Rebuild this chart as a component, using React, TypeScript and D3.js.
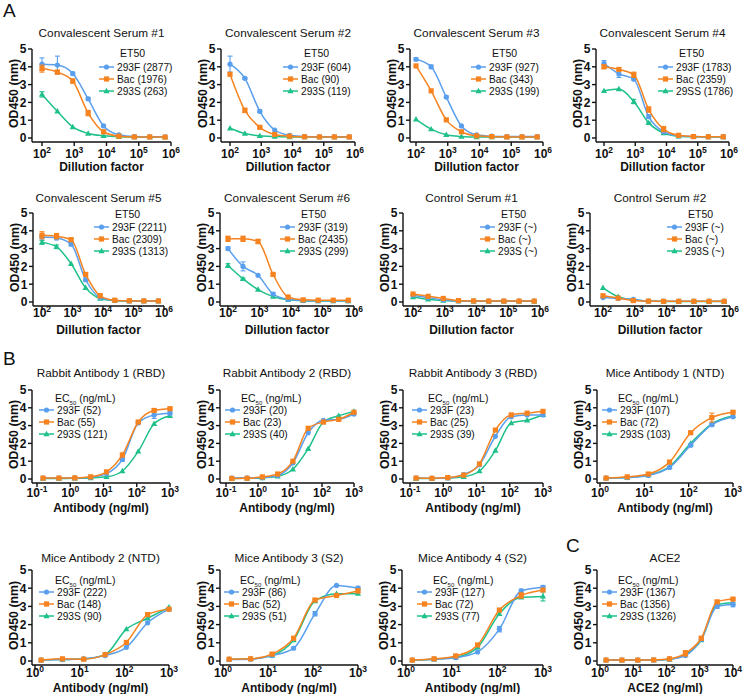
import React from "react";
import * as d3 from "d3";

const FONT = "Arial, 'Liberation Sans', Helvetica, sans-serif";
const COLORS = ["#5A9FEE", "#F6831F", "#1EC08C"]; // 293F, Bac, 293S

// ---------- x values ----------
const serumDilutions = [100, 300, 900, 2700, 8100, 24300, 72900, 218700, 656100];
const antibodyConc9 = [0.152, 0.457, 1.37, 4.12, 12.3, 37.0, 111, 333, 1000];
const antibodyConc7 = [1.37, 4.12, 12.3, 37.0, 111, 333, 1000];
const ace2Conc = [1.52, 4.57, 13.7, 41.2, 123, 370, 1111, 3333, 10000];

// ---------- Panel A: convalescent / control sera (293F, Bac, 293S) ----------
const serum1Values = [
  [4.15, 4.1, 3.62, 2.2, 0.68, 0.18, 0.08, 0.07, 0.07],
  [3.9, 3.7, 3.2, 1.4, 0.35, 0.1, 0.06, 0.06, 0.05],
  [2.45, 1.5, 0.62, 0.25, 0.12, 0.07, 0.06, 0.06, 0.05],
];
const serum1Err = [
  [0.35, 0.5, 0.08, 0.08, 0.05, 0, 0, 0, 0],
  [0.2, 0.1, 0.12, 0.15, 0.05, 0, 0, 0, 0],
  [0.15, 0, 0, 0, 0, 0, 0, 0, 0],
];
const serum1Legend = ["293F (2877)", "Bac (1976)", "293S (263)"];

const serum2Values = [
  [4.15, 3.35, 1.5, 0.45, 0.15, 0.08, 0.07, 0.07, 0.07],
  [3.58, 1.55, 0.6, 0.2, 0.1, 0.07, 0.06, 0.06, 0.06],
  [0.55, 0.25, 0.12, 0.08, 0.06, 0.05, 0.05, 0.05, 0.05],
];
const serum2Err = [
  [0.45, 0.05, 0.08, 0, 0, 0, 0, 0, 0],
  [0, 0.12, 0.05, 0, 0, 0, 0, 0, 0],
  [0, 0, 0, 0, 0, 0, 0, 0, 0],
];
const serum2Legend = ["293F (604)", "Bac (90)", "293S (119)"];

const serum3Values = [
  [4.42, 4.0, 2.3, 0.68, 0.18, 0.1, 0.08, 0.08, 0.08],
  [4.05, 2.65, 1.02, 0.35, 0.12, 0.08, 0.06, 0.06, 0.06],
  [1.05, 0.5, 0.18, 0.08, 0.05, 0.05, 0.05, 0.05, 0.05],
];
const serum3Err = [
  [0.08, 0.1, 0.06, 0, 0, 0, 0, 0, 0],
  [0, 0, 0, 0, 0, 0, 0, 0, 0],
  [0, 0, 0, 0, 0, 0, 0, 0, 0],
];
const serum3Legend = ["293F (927)", "Bac (343)", "293S (199)"];

const serum4Values = [
  [4.2, 3.6, 3.3, 1.2, 0.35, 0.12, 0.08, 0.07, 0.07],
  [4.0, 3.85, 3.55, 1.6, 0.5, 0.15, 0.08, 0.07, 0.07],
  [2.65, 2.75, 2.05, 0.85, 0.28, 0.1, 0.07, 0.06, 0.06],
];
const serum4Err = [
  [0.15, 0.2, 0.05, 0.1, 0.05, 0, 0, 0, 0],
  [0.1, 0, 0.15, 0.15, 0.15, 0.05, 0, 0, 0],
  [0, 0, 0.12, 0.05, 0, 0, 0, 0, 0],
];
const serum4Legend = ["293F (1783)", "Bac (2359)", "29SS (1786)"];

const serum5Values = [
  [3.65, 3.6, 3.25, 1.25, 0.25, 0.08, 0.06, 0.06, 0.06],
  [3.75, 3.7, 3.5, 1.55, 0.35, 0.1, 0.07, 0.06, 0.06],
  [3.35, 3.1, 2.15, 0.8, 0.2, 0.08, 0.05, 0.05, 0.05],
];
const serum5Err = [
  [0.1, 0.1, 0.1, 0.08, 0, 0, 0, 0, 0],
  [0.2, 0.15, 0.1, 0.1, 0.1, 0.05, 0, 0, 0],
  [0.1, 0.1, 0, 0, 0, 0, 0, 0, 0],
];
const serum5Legend = ["293F (2211)", "Bac (2309)", "293S (1313)"];

const serum6Values = [
  [3.0, 2.0, 1.5, 0.45, 0.15, 0.08, 0.07, 0.07, 0.07],
  [3.55, 3.55, 3.4, 1.55, 0.28, 0.12, 0.1, 0.1, 0.1],
  [2.05, 1.3, 0.7, 0.3, 0.12, 0.07, 0.06, 0.06, 0.06],
];
const serum6Err = [
  [0.1, 0.25, 0, 0.08, 0, 0, 0, 0, 0],
  [0.15, 0.15, 0.12, 0.05, 0.05, 0, 0, 0, 0],
  [0.1, 0.05, 0, 0, 0, 0, 0, 0, 0],
];
const serum6Legend = ["293F (319)", "Bac (2435)", "293S (299)"];

const control1Values = [
  [0.38, 0.25, 0.12, 0.06, 0.05, 0.05, 0.05, 0.05, 0.05],
  [0.45, 0.32, 0.2, 0.08, 0.06, 0.05, 0.05, 0.05, 0.05],
  [0.28, 0.15, 0.08, 0.05, 0.04, 0.04, 0.04, 0.04, 0.04],
];
const control2Values = [
  [0.25, 0.2, 0.15, 0.05, 0.04, 0.04, 0.04, 0.04, 0.04],
  [0.35, 0.22, 0.08, 0.05, 0.04, 0.04, 0.04, 0.04, 0.04],
  [0.8, 0.3, 0.12, 0.05, 0.03, 0.03, 0.03, 0.03, 0.03],
];
const controlLegend = ["293F (~)", "Bac (~)", "293S (~)"];

// ---------- Panel B: antibodies ----------
const rabbit1Values = [
  [0.05, 0.05, 0.06, 0.1, 0.3, 1.1, 3.15, 3.6, 3.7],
  [0.05, 0.05, 0.06, 0.12, 0.4, 1.35, 3.2, 3.85, 3.95],
  [0.03, 0.03, 0.04, 0.06, 0.12, 0.45, 1.55, 3.1, 3.55],
];
const rabbit1Err = [
  [0, 0, 0, 0, 0, 0.1, 0, 0.2, 0.08],
  [0, 0, 0, 0, 0.06, 0.1, 0.05, 0.1, 0.05],
  [0, 0, 0, 0, 0, 0, 0, 0, 0],
];
const rabbit1Legend = ["293F (52)", "Bac (55)", "293S (121)"];

const rabbit2Values = [
  [0.05, 0.05, 0.08, 0.2, 0.9, 2.6, 3.3, 3.35, 3.65],
  [0.03, 0.04, 0.12, 0.28, 1.0, 2.85, 3.2, 3.35, 3.75],
  [0.03, 0.04, 0.06, 0.15, 0.55, 1.7, 3.2, 3.55, 3.8],
];
const rabbit2Legend = ["293F (20)", "Bac (23)", "293S (40)"];

const rabbit3Values = [
  [0.05, 0.04, 0.06, 0.25, 0.8, 2.4, 3.5, 3.6, 3.6],
  [0.05, 0.04, 0.08, 0.22, 0.85, 2.75, 3.6, 3.7, 3.8],
  [0.03, 0.03, 0.05, 0.12, 0.45, 1.6, 3.15, 3.3, 3.6],
];
const rabbit3Legend = ["293F (23)", "Bac (25)", "293S (39)"];

const mice1Values = [
  [0.05, 0.08, 0.2, 0.65, 1.9, 3.05, 3.5],
  [0.05, 0.12, 0.28, 0.95, 2.6, 3.45, 3.75],
  [0.05, 0.08, 0.22, 0.7, 2.0, 3.1, 3.55],
];
const mice1Err = [
  [0, 0, 0, 0.06, 0.08, 0.08, 0],
  [0, 0, 0.06, 0.05, 0.05, 0.25, 0.05],
  [0, 0, 0, 0, 0, 0, 0],
];
const mice1Legend = ["293F (107)", "Bac (72)", "293S (103)"];

const mice2Values = [
  [0.05, 0.08, 0.12, 0.3, 0.75, 2.1, 2.85],
  [0.05, 0.12, 0.1, 0.35, 1.02, 2.55, 2.85],
  [0.05, 0.08, 0.12, 0.35, 1.75, 2.35, 2.95],
];
const mice2Legend = ["293F (222)", "Bac (148)", "293S (90)"];

const mice3Values = [
  [0.08, 0.1, 0.3, 0.7, 2.6, 4.15, 4.0],
  [0.1, 0.12, 0.38, 1.25, 3.35, 3.6, 3.85],
  [0.1, 0.12, 0.3, 1.15, 3.3, 3.7, 3.7],
];
const mice3Err = [
  [0, 0, 0, 0.05, 0.12, 0, 0.1],
  [0, 0, 0.05, 0.08, 0.05, 0.05, 0.1],
  [0, 0, 0, 0, 0, 0, 0],
];
const mice3Legend = ["293F (86)", "Bac (52)", "293S (51)"];

const mice4Values = [
  [0.05, 0.1, 0.18, 0.5, 1.75, 3.85, 4.05],
  [0.05, 0.12, 0.28, 0.88, 2.8, 3.6, 3.9],
  [0.05, 0.1, 0.2, 0.75, 2.6, 3.5, 3.55],
];
const mice4Err = [
  [0, 0, 0, 0, 0.15, 0.1, 0.1],
  [0, 0, 0.05, 0.05, 0.08, 0.15, 0],
  [0, 0, 0, 0, 0, 0, 0.25],
];
const mice4Legend = ["293F (127)", "Bac (72)", "293S (77)"];

const ace2Values = [
  [0.05, 0.05, 0.05, 0.05, 0.1, 0.3, 1.2, 3.0, 3.1],
  [0.05, 0.05, 0.05, 0.06, 0.12, 0.42, 1.25, 3.25, 3.4],
  [0.05, 0.05, 0.05, 0.05, 0.1, 0.35, 1.15, 3.1, 3.2],
];
const ace2Err = [
  [0, 0, 0, 0, 0, 0, 0.1, 0.1, 0.12],
  [0, 0, 0, 0, 0.05, 0.15, 0.1, 0.05, 0.05],
  [0, 0, 0, 0, 0, 0, 0, 0, 0],
];
const ace2Legend = ["293F (1367)", "Bac (1356)", "293S (1326)"];

const yTicks = [0, 1, 2, 3, 4, 5];

// ---------- layout ----------
type Row = { top: number; zero: number; titleY: number; tickY: number; xLabelY: number; legY: number[] };
const rowA1: Row = { top: 49, zero: 138, titleY: 37, tickY: 158, xLabelY: 171, legY: [4, 18, 30, 42] };
const rowA2: Row = { top: 213, zero: 302, titleY: 202, tickY: 317, xLabelY: 334, legY: [1, 14, 26, 38] };
const rowB1: Row = { top: 390, zero: 479, titleY: 377, tickY: 497, xLabelY: 512, legY: [8, 20, 32, 44] };
const rowB2: Row = { top: 570, zero: 661, titleY: 562, tickY: 677, xLabelY: 692, legY: [10, 22, 34, 46] };

type PanelSpec = {
  title: string;
  row: Row;
  axisX: number;
  x0: number;
  x1: number;
  dMin: number;
  dMax: number;
  xs: number[];
  values: number[][];
  errs?: number[][];
  header: "ET50" | "EC50";
  legend: string[];
  legX: number;
  xLabel: string;
};

const panels: PanelSpec[] = [
  { title: "Convalescent Serum #1", row: rowA1, axisX: 32, x0: 42, x1: 171, dMin: 2, dMax: 6, xs: serumDilutions, values: serum1Values, errs: serum1Err, header: "ET50", legend: serum1Legend, legX: 117, xLabel: "Dillution factor" },
  { title: "Convalescent Serum #2", row: rowA1, axisX: 221, x0: 230, x1: 355, dMin: 2, dMax: 6, xs: serumDilutions, values: serum2Values, errs: serum2Err, header: "ET50", legend: serum2Legend, legX: 301, xLabel: "Dillution factor" },
  { title: "Convalescent Serum #3", row: rowA1, axisX: 410, x0: 416, x1: 543, dMin: 2, dMax: 6, xs: serumDilutions, values: serum3Values, errs: serum3Err, header: "ET50", legend: serum3Legend, legX: 489, xLabel: "Dillution factor" },
  { title: "Convalescent Serum #4", row: rowA1, axisX: 596, x0: 604, x1: 729, dMin: 2, dMax: 6, xs: serumDilutions, values: serum4Values, errs: serum4Err, header: "ET50", legend: serum4Legend, legX: 676, xLabel: "Dillution factor" },
  { title: "Convalescent Serum #5", row: rowA2, axisX: 33, x0: 42, x1: 164, dMin: 2, dMax: 6, xs: serumDilutions, values: serum5Values, errs: serum5Err, header: "ET50", legend: serum5Legend, legX: 112, xLabel: "Dillution factor" },
  { title: "Convalescent Serum #6", row: rowA2, axisX: 220, x0: 228, x1: 354, dMin: 2, dMax: 6, xs: serumDilutions, values: serum6Values, errs: serum6Err, header: "ET50", legend: serum6Legend, legX: 298, xLabel: "Dillution factor" },
  { title: "Control Serum #1", row: rowA2, axisX: 403, x0: 413, x1: 540, dMin: 2, dMax: 6, xs: serumDilutions, values: control1Values, header: "ET50", legend: controlLegend, legX: 498, xLabel: "Dillution factor" },
  { title: "Control Serum #2", row: rowA2, axisX: 590, x0: 603, x1: 730, dMin: 2, dMax: 6, xs: serumDilutions, values: control2Values, header: "ET50", legend: controlLegend, legX: 685, xLabel: "Dillution factor" },
  { title: "Rabbit Antibody 1 (RBD)", row: rowB1, axisX: 32, x0: 37, x1: 170, dMin: -1, dMax: 3, xs: antibodyConc9, values: rabbit1Values, errs: rabbit1Err, header: "EC50", legend: rabbit1Legend, legX: 57, xLabel: "Antibody (ng/ml)" },
  { title: "Rabbit Antibody 2 (RBD)", row: rowB1, axisX: 220, x0: 226, x1: 354, dMin: -1, dMax: 3, xs: antibodyConc9, values: rabbit2Values, header: "EC50", legend: rabbit2Legend, legX: 243, xLabel: "Antibody (ng/ml)" },
  { title: "Rabbit Antibody 3 (RBD)", row: rowB1, axisX: 403, x0: 410, x1: 543, dMin: -1, dMax: 3, xs: antibodyConc9, values: rabbit3Values, header: "EC50", legend: rabbit3Legend, legX: 430, xLabel: "Antibody (ng/ml)" },
  { title: "Mice Antibody 1 (NTD)", row: rowB1, axisX: 597, x0: 600, x1: 733, dMin: 0, dMax: 3, xs: antibodyConc7, values: mice1Values, errs: mice1Err, header: "EC50", legend: mice1Legend, legX: 620, xLabel: "Antibody (ng/ml)" },
  { title: "Mice Antibody 2 (NTD)", row: rowB2, axisX: 32, x0: 35, x1: 169, dMin: 0, dMax: 3, xs: antibodyConc7, values: mice2Values, header: "EC50", legend: mice2Legend, legX: 57, xLabel: "Antibody (ng/ml)" },
  { title: "Mice Antibody 3 (S2)", row: rowB2, axisX: 220, x0: 223, x1: 358, dMin: 0, dMax: 3, xs: antibodyConc7, values: mice3Values, errs: mice3Err, header: "EC50", legend: mice3Legend, legX: 242, xLabel: "Antibody (ng/ml)" },
  { title: "Mice Antibody 4 (S2)", row: rowB2, axisX: 402, x0: 406, x1: 543, dMin: 0, dMax: 3, xs: antibodyConc7, values: mice4Values, errs: mice4Err, header: "EC50", legend: mice4Legend, legX: 435, xLabel: "Antibody (ng/ml)" },
  { title: "ACE2", row: rowB2, axisX: 597, x0: 600, x1: 733, dMin: 0, dMax: 4, xs: ace2Conc, values: ace2Values, errs: ace2Err, header: "EC50", legend: ace2Legend, legX: 620, xLabel: "ACE2 (ng/ml)" },
];

const drawOrder = [2, 0, 1];

function Marker({ type, x, y, color }: { type: number; x: number; y: number; color: string }) {
  if (type === 0) return <circle cx={x} cy={y} r={2.6} fill={color} />;
  if (type === 1) return <rect x={x - 2.6} y={y - 2.6} width={5.2} height={5.2} fill={color} />;
  return <path d={`M${x},${y - 3.2}L${x + 3.1},${y + 2.2}L${x - 3.1},${y + 2.2}Z`} fill={color} />;
}

function Panel({ p }: { p: PanelSpec }) {
  const r = p.row;
  const x = d3.scaleLog().domain([10 ** p.dMin, 10 ** p.dMax]).range([p.x0, p.x1]);
  const y = d3.scaleLinear().domain([0, 5]).range([r.zero, r.top]);
  const axisY = r.zero + 4;
  const line = d3
    .line<[number, number]>()
    .x((d) => x(d[0]))
    .y((d) => y(d[1]))
    .curve(d3.curveMonotoneX);
  const decades = d3.range(p.dMin, p.dMax + 1);
  const cx = (p.axisX + p.x1) / 2;
  const tickLen = 4;
  return (
    <g>
      <text x={cx} y={r.titleY} textAnchor="middle" fontSize={11.8} fill="#111">
        {p.title}
      </text>
      {/* y axis */}
      <line x1={p.axisX} x2={p.axisX} y1={r.top} y2={axisY} stroke="#111" strokeWidth={1.4} />
      {yTicks.map((t) => (
        <g key={t}>
          <line x1={p.axisX - tickLen} x2={p.axisX} y1={y(t)} y2={y(t)} stroke="#111" strokeWidth={1.4} />
          <text x={p.axisX - 5.5} y={y(t) + 4.3} textAnchor="end" fontSize={12} fontWeight="bold" fill="#111">
            {t}
          </text>
        </g>
      ))}
      <text
        transform={`translate(${p.axisX - 14},${(r.top + r.zero) / 2}) rotate(-90)`}
        textAnchor="middle"
        fontSize={12.3}
        fontWeight="bold"
        fill="#111"
      >
        OD450 (nm)
      </text>
      {/* x axis */}
      <line x1={p.axisX} x2={p.x1} y1={axisY} y2={axisY} stroke="#111" strokeWidth={1.4} />
      {decades.map((d) => (
        <g key={d}>
          <line x1={x(10 ** d)} x2={x(10 ** d)} y1={axisY} y2={axisY + tickLen} stroke="#111" strokeWidth={1.4} />
          <text x={x(10 ** d)} y={r.tickY} textAnchor="middle" fontSize={12} fontWeight="bold" fill="#111">
            10
            <tspan dy={-5} fontSize={8.5}>
              {String(d)}
            </tspan>
          </text>
        </g>
      ))}
      <text x={cx} y={r.xLabelY} textAnchor="middle" fontSize={12} fontWeight="bold" fill="#111">
        {p.xLabel}
      </text>
      {/* series */}
      {drawOrder.map((si) => {
        const vals = p.values[si];
        const pts: [number, number][] = p.xs.map((xv, i) => [xv, vals[i]]);
        const errs = p.errs ? p.errs[si] : null;
        return (
          <g key={si}>
            <path d={line(pts) || ""} fill="none" stroke={COLORS[si]} strokeWidth={1.5} />
            {errs &&
              pts.map((pt, i) =>
                errs[i] > 0 ? (
                  <g key={"e" + i} stroke={COLORS[si]} strokeWidth={1.1}>
                    <line x1={x(pt[0])} x2={x(pt[0])} y1={y(pt[1] - errs[i])} y2={y(pt[1] + errs[i])} />
                    <line x1={x(pt[0]) - 2.5} x2={x(pt[0]) + 2.5} y1={y(pt[1] - errs[i])} y2={y(pt[1] - errs[i])} />
                    <line x1={x(pt[0]) - 2.5} x2={x(pt[0]) + 2.5} y1={y(pt[1] + errs[i])} y2={y(pt[1] + errs[i])} />
                  </g>
                ) : null
              )}
            {pts.map((pt, i) => (
              <Marker key={i} type={si} x={x(pt[0])} y={y(pt[1])} color={COLORS[si]} />
            ))}
          </g>
        );
      })}
      {/* legend */}
      {p.header === "ET50" ? (
        <text x={p.legX + 3} y={r.top + r.legY[0] + 4} fontSize={10.5} fill="#111">
          ET50
        </text>
      ) : (
        <text x={p.legX - 2} y={r.top + r.legY[0] + 4} fontSize={10.5} fill="#111">
          EC
          <tspan dy={2.5} fontSize={6}>
            50
          </tspan>
          <tspan dy={-2.5}> (ng/mL)</tspan>
        </text>
      )}
      {p.legend.map((lab, i) => {
        const ly = r.top + r.legY[i + 1];
        return (
          <g key={lab + i}>
            <line x1={p.legX - 18} x2={p.legX - 3} y1={ly} y2={ly} stroke={COLORS[i]} strokeWidth={1.5} />
            <Marker type={i} x={p.legX - 10.5} y={ly} color={COLORS[i]} />
            <text x={p.legX} y={ly + 3.6} fontSize={10.2} fill="#111">
              {lab}
            </text>
          </g>
        );
      })}
    </g>
  );
}

export default function App() {
  return (
    <svg
      width={743}
      height={694}
      viewBox="0 0 743 694"
      style={{ position: "absolute", left: 0, top: 0, display: "block", background: "#fff" }}
      fontFamily={FONT}
    >
      <rect width={743} height={694} fill="#fff" />
      <text x={3} y={17} fontSize={19} fill="#111">A</text>
      <text x={3} y={365} fontSize={19} fill="#111">B</text>
      <text x={566} y={552} fontSize={19} fill="#111">C</text>
      {panels.map((p, i) => (
        <Panel key={i} p={p} />
      ))}
    </svg>
  );
}
